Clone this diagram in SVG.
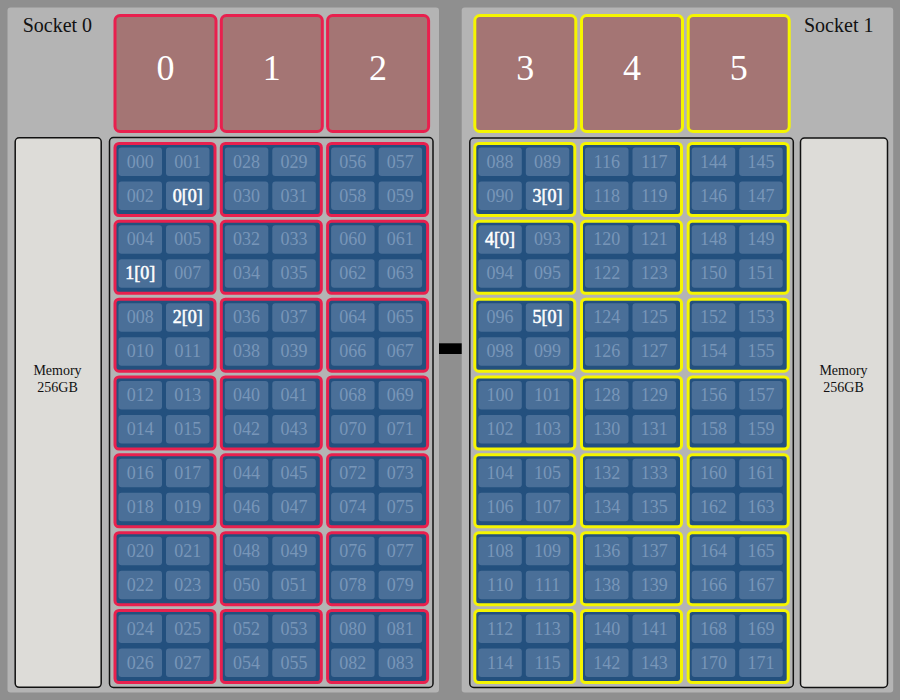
<svg xmlns="http://www.w3.org/2000/svg" xmlns:xlink="http://www.w3.org/1999/xlink" width="900" height="700" viewBox="0 0 900 700">
<style>
text{font-family:"Liberation Serif","Times New Roman",serif}
.panel{fill:#b4b4b4}
.box{fill:none;stroke:#111;stroke-width:1.5}
.mem{fill:#dddcd8;stroke:#111;stroke-width:1.5}
.memt{font-size:14px;fill:#111;text-anchor:middle}
.sock{font-size:20px;fill:#111}
.core{fill:#a47574;stroke-width:3}
.coret{font-size:36px;fill:#fff;text-anchor:middle}
.r{stroke:#e8204e}
.y{stroke:#f5f500}
.gf{fill:#23507e;stroke-width:3}
.c{font-size:18px;fill:#7896b8;text-anchor:middle}
.h{fill:#fff;stroke:#fff;stroke-width:0.55}
</style>
<defs>
<rect id="cell" width="43.5" height="28.5" rx="3" fill="#4a6f98"/>
<rect id="gframe" x="1.5" y="1.5" width="100" height="72" rx="4"/>
<rect id="cframe" x="1.5" y="1.5" width="101" height="116" rx="5"/>
<g id="cells"><use href="#cell" x="5" y="5.5"/><use href="#cell" x="52.5" y="5.5"/><use href="#cell" x="5" y="39.5"/><use href="#cell" x="52.5" y="39.5"/></g>
</defs>
<rect width="900" height="700" fill="#8f8f8f"/>

<g id="socket0">
<rect class="panel" x="7.5" y="7.5" width="431.5" height="685" rx="3"/>
<text class="sock" x="22.7" y="32.3">Socket 0</text>
<rect class="box" x="109.5" y="137.5" width="323.5" height="550" rx="4"/>
</g>
<g id="socket1">
<rect class="panel" x="461.7" y="7.5" width="431.5" height="685" rx="3"/>
<text class="sock" x="804" y="32.3">Socket 1</text>
<rect class="box" x="469.8" y="138" width="323.5" height="549.5" rx="4"/>
</g>

<g id="memory0"><rect class="mem" x="15.2" y="137.8" width="86" height="549.5" rx="4"/><text class="memt" x="57.5" y="375">Memory</text><text class="memt" x="57.5" y="392">256GB</text></g>
<g id="memory1"><rect class="mem" x="800.5" y="138" width="87" height="549.5" rx="4"/><text class="memt" x="843.5" y="375">Memory</text><text class="memt" x="843.5" y="392">256GB</text></g>

<g id="core0" transform="translate(113.5,14)"><use href="#cframe" class="core r"/><text class="coret" x="52" y="66">0</text></g>
<g id="core1" transform="translate(219.8,14)"><use href="#cframe" class="core r"/><text class="coret" x="52" y="66">1</text></g>
<g id="core2" transform="translate(326.1,14)"><use href="#cframe" class="core r"/><text class="coret" x="52" y="66">2</text></g>
<g id="core3" transform="translate(473.3,14)"><use href="#cframe" class="core y"/><text class="coret" x="52" y="66">3</text></g>
<g id="core4" transform="translate(580,14)"><use href="#cframe" class="core y"/><text class="coret" x="52" y="66">4</text></g>
<g id="core5" transform="translate(686.7,14)"><use href="#cframe" class="core y"/><text class="coret" x="52" y="66">5</text></g>

<!-- Socket 0, column A -->
<g id="grp000" transform="translate(113.5,142)"><use href="#gframe" class="gf r"/><use href="#cells"/><text class="c" x="26.75" y="25.5">000</text><text class="c" x="74.25" y="25.5">001</text><text class="c" x="26.75" y="59.5">002</text><text class="c h" x="74.25" y="59.5">0[0]</text></g>
<g id="grp004" transform="translate(113.5,219.8)"><use href="#gframe" class="gf r"/><use href="#cells"/><text class="c" x="26.75" y="25.5">004</text><text class="c" x="74.25" y="25.5">005</text><text class="c h" x="26.75" y="59.5">1[0]</text><text class="c" x="74.25" y="59.5">007</text></g>
<g id="grp008" transform="translate(113.5,297.7)"><use href="#gframe" class="gf r"/><use href="#cells"/><text class="c" x="26.75" y="25.5">008</text><text class="c h" x="74.25" y="25.5">2[0]</text><text class="c" x="26.75" y="59.5">010</text><text class="c" x="74.25" y="59.5">011</text></g>
<g id="grp012" transform="translate(113.5,375.5)"><use href="#gframe" class="gf r"/><use href="#cells"/><text class="c" x="26.75" y="25.5">012</text><text class="c" x="74.25" y="25.5">013</text><text class="c" x="26.75" y="59.5">014</text><text class="c" x="74.25" y="59.5">015</text></g>
<g id="grp016" transform="translate(113.5,453.3)"><use href="#gframe" class="gf r"/><use href="#cells"/><text class="c" x="26.75" y="25.5">016</text><text class="c" x="74.25" y="25.5">017</text><text class="c" x="26.75" y="59.5">018</text><text class="c" x="74.25" y="59.5">019</text></g>
<g id="grp020" transform="translate(113.5,531.2)"><use href="#gframe" class="gf r"/><use href="#cells"/><text class="c" x="26.75" y="25.5">020</text><text class="c" x="74.25" y="25.5">021</text><text class="c" x="26.75" y="59.5">022</text><text class="c" x="74.25" y="59.5">023</text></g>
<g id="grp024" transform="translate(113.5,609)"><use href="#gframe" class="gf r"/><use href="#cells"/><text class="c" x="26.75" y="25.5">024</text><text class="c" x="74.25" y="25.5">025</text><text class="c" x="26.75" y="59.5">026</text><text class="c" x="74.25" y="59.5">027</text></g>

<!-- Socket 0, column B -->
<g id="grp028" transform="translate(219.8,142)"><use href="#gframe" class="gf r"/><use href="#cells"/><text class="c" x="26.75" y="25.5">028</text><text class="c" x="74.25" y="25.5">029</text><text class="c" x="26.75" y="59.5">030</text><text class="c" x="74.25" y="59.5">031</text></g>
<g id="grp032" transform="translate(219.8,219.8)"><use href="#gframe" class="gf r"/><use href="#cells"/><text class="c" x="26.75" y="25.5">032</text><text class="c" x="74.25" y="25.5">033</text><text class="c" x="26.75" y="59.5">034</text><text class="c" x="74.25" y="59.5">035</text></g>
<g id="grp036" transform="translate(219.8,297.7)"><use href="#gframe" class="gf r"/><use href="#cells"/><text class="c" x="26.75" y="25.5">036</text><text class="c" x="74.25" y="25.5">037</text><text class="c" x="26.75" y="59.5">038</text><text class="c" x="74.25" y="59.5">039</text></g>
<g id="grp040" transform="translate(219.8,375.5)"><use href="#gframe" class="gf r"/><use href="#cells"/><text class="c" x="26.75" y="25.5">040</text><text class="c" x="74.25" y="25.5">041</text><text class="c" x="26.75" y="59.5">042</text><text class="c" x="74.25" y="59.5">043</text></g>
<g id="grp044" transform="translate(219.8,453.3)"><use href="#gframe" class="gf r"/><use href="#cells"/><text class="c" x="26.75" y="25.5">044</text><text class="c" x="74.25" y="25.5">045</text><text class="c" x="26.75" y="59.5">046</text><text class="c" x="74.25" y="59.5">047</text></g>
<g id="grp048" transform="translate(219.8,531.2)"><use href="#gframe" class="gf r"/><use href="#cells"/><text class="c" x="26.75" y="25.5">048</text><text class="c" x="74.25" y="25.5">049</text><text class="c" x="26.75" y="59.5">050</text><text class="c" x="74.25" y="59.5">051</text></g>
<g id="grp052" transform="translate(219.8,609)"><use href="#gframe" class="gf r"/><use href="#cells"/><text class="c" x="26.75" y="25.5">052</text><text class="c" x="74.25" y="25.5">053</text><text class="c" x="26.75" y="59.5">054</text><text class="c" x="74.25" y="59.5">055</text></g>

<!-- Socket 0, column C -->
<g id="grp056" transform="translate(326.1,142)"><use href="#gframe" class="gf r"/><use href="#cells"/><text class="c" x="26.75" y="25.5">056</text><text class="c" x="74.25" y="25.5">057</text><text class="c" x="26.75" y="59.5">058</text><text class="c" x="74.25" y="59.5">059</text></g>
<g id="grp060" transform="translate(326.1,219.8)"><use href="#gframe" class="gf r"/><use href="#cells"/><text class="c" x="26.75" y="25.5">060</text><text class="c" x="74.25" y="25.5">061</text><text class="c" x="26.75" y="59.5">062</text><text class="c" x="74.25" y="59.5">063</text></g>
<g id="grp064" transform="translate(326.1,297.7)"><use href="#gframe" class="gf r"/><use href="#cells"/><text class="c" x="26.75" y="25.5">064</text><text class="c" x="74.25" y="25.5">065</text><text class="c" x="26.75" y="59.5">066</text><text class="c" x="74.25" y="59.5">067</text></g>
<g id="grp068" transform="translate(326.1,375.5)"><use href="#gframe" class="gf r"/><use href="#cells"/><text class="c" x="26.75" y="25.5">068</text><text class="c" x="74.25" y="25.5">069</text><text class="c" x="26.75" y="59.5">070</text><text class="c" x="74.25" y="59.5">071</text></g>
<g id="grp072" transform="translate(326.1,453.3)"><use href="#gframe" class="gf r"/><use href="#cells"/><text class="c" x="26.75" y="25.5">072</text><text class="c" x="74.25" y="25.5">073</text><text class="c" x="26.75" y="59.5">074</text><text class="c" x="74.25" y="59.5">075</text></g>
<g id="grp076" transform="translate(326.1,531.2)"><use href="#gframe" class="gf r"/><use href="#cells"/><text class="c" x="26.75" y="25.5">076</text><text class="c" x="74.25" y="25.5">077</text><text class="c" x="26.75" y="59.5">078</text><text class="c" x="74.25" y="59.5">079</text></g>
<g id="grp080" transform="translate(326.1,609)"><use href="#gframe" class="gf r"/><use href="#cells"/><text class="c" x="26.75" y="25.5">080</text><text class="c" x="74.25" y="25.5">081</text><text class="c" x="26.75" y="59.5">082</text><text class="c" x="74.25" y="59.5">083</text></g>

<!-- Socket 1, column D -->
<g id="grp088" transform="translate(473.3,142)"><use href="#gframe" class="gf y"/><use href="#cells"/><text class="c" x="26.75" y="25.5">088</text><text class="c" x="74.25" y="25.5">089</text><text class="c" x="26.75" y="59.5">090</text><text class="c h" x="74.25" y="59.5">3[0]</text></g>
<g id="grp092" transform="translate(473.3,219.8)"><use href="#gframe" class="gf y"/><use href="#cells"/><text class="c h" x="26.75" y="25.5">4[0]</text><text class="c" x="74.25" y="25.5">093</text><text class="c" x="26.75" y="59.5">094</text><text class="c" x="74.25" y="59.5">095</text></g>
<g id="grp096" transform="translate(473.3,297.7)"><use href="#gframe" class="gf y"/><use href="#cells"/><text class="c" x="26.75" y="25.5">096</text><text class="c h" x="74.25" y="25.5">5[0]</text><text class="c" x="26.75" y="59.5">098</text><text class="c" x="74.25" y="59.5">099</text></g>
<g id="grp100" transform="translate(473.3,375.5)"><use href="#gframe" class="gf y"/><use href="#cells"/><text class="c" x="26.75" y="25.5">100</text><text class="c" x="74.25" y="25.5">101</text><text class="c" x="26.75" y="59.5">102</text><text class="c" x="74.25" y="59.5">103</text></g>
<g id="grp104" transform="translate(473.3,453.3)"><use href="#gframe" class="gf y"/><use href="#cells"/><text class="c" x="26.75" y="25.5">104</text><text class="c" x="74.25" y="25.5">105</text><text class="c" x="26.75" y="59.5">106</text><text class="c" x="74.25" y="59.5">107</text></g>
<g id="grp108" transform="translate(473.3,531.2)"><use href="#gframe" class="gf y"/><use href="#cells"/><text class="c" x="26.75" y="25.5">108</text><text class="c" x="74.25" y="25.5">109</text><text class="c" x="26.75" y="59.5">110</text><text class="c" x="74.25" y="59.5">111</text></g>
<g id="grp112" transform="translate(473.3,609)"><use href="#gframe" class="gf y"/><use href="#cells"/><text class="c" x="26.75" y="25.5">112</text><text class="c" x="74.25" y="25.5">113</text><text class="c" x="26.75" y="59.5">114</text><text class="c" x="74.25" y="59.5">115</text></g>

<!-- Socket 1, column E -->
<g id="grp116" transform="translate(580,142)"><use href="#gframe" class="gf y"/><use href="#cells"/><text class="c" x="26.75" y="25.5">116</text><text class="c" x="74.25" y="25.5">117</text><text class="c" x="26.75" y="59.5">118</text><text class="c" x="74.25" y="59.5">119</text></g>
<g id="grp120" transform="translate(580,219.8)"><use href="#gframe" class="gf y"/><use href="#cells"/><text class="c" x="26.75" y="25.5">120</text><text class="c" x="74.25" y="25.5">121</text><text class="c" x="26.75" y="59.5">122</text><text class="c" x="74.25" y="59.5">123</text></g>
<g id="grp124" transform="translate(580,297.7)"><use href="#gframe" class="gf y"/><use href="#cells"/><text class="c" x="26.75" y="25.5">124</text><text class="c" x="74.25" y="25.5">125</text><text class="c" x="26.75" y="59.5">126</text><text class="c" x="74.25" y="59.5">127</text></g>
<g id="grp128" transform="translate(580,375.5)"><use href="#gframe" class="gf y"/><use href="#cells"/><text class="c" x="26.75" y="25.5">128</text><text class="c" x="74.25" y="25.5">129</text><text class="c" x="26.75" y="59.5">130</text><text class="c" x="74.25" y="59.5">131</text></g>
<g id="grp132" transform="translate(580,453.3)"><use href="#gframe" class="gf y"/><use href="#cells"/><text class="c" x="26.75" y="25.5">132</text><text class="c" x="74.25" y="25.5">133</text><text class="c" x="26.75" y="59.5">134</text><text class="c" x="74.25" y="59.5">135</text></g>
<g id="grp136" transform="translate(580,531.2)"><use href="#gframe" class="gf y"/><use href="#cells"/><text class="c" x="26.75" y="25.5">136</text><text class="c" x="74.25" y="25.5">137</text><text class="c" x="26.75" y="59.5">138</text><text class="c" x="74.25" y="59.5">139</text></g>
<g id="grp140" transform="translate(580,609)"><use href="#gframe" class="gf y"/><use href="#cells"/><text class="c" x="26.75" y="25.5">140</text><text class="c" x="74.25" y="25.5">141</text><text class="c" x="26.75" y="59.5">142</text><text class="c" x="74.25" y="59.5">143</text></g>

<!-- Socket 1, column F -->
<g id="grp144" transform="translate(686.7,142)"><use href="#gframe" class="gf y"/><use href="#cells"/><text class="c" x="26.75" y="25.5">144</text><text class="c" x="74.25" y="25.5">145</text><text class="c" x="26.75" y="59.5">146</text><text class="c" x="74.25" y="59.5">147</text></g>
<g id="grp148" transform="translate(686.7,219.8)"><use href="#gframe" class="gf y"/><use href="#cells"/><text class="c" x="26.75" y="25.5">148</text><text class="c" x="74.25" y="25.5">149</text><text class="c" x="26.75" y="59.5">150</text><text class="c" x="74.25" y="59.5">151</text></g>
<g id="grp152" transform="translate(686.7,297.7)"><use href="#gframe" class="gf y"/><use href="#cells"/><text class="c" x="26.75" y="25.5">152</text><text class="c" x="74.25" y="25.5">153</text><text class="c" x="26.75" y="59.5">154</text><text class="c" x="74.25" y="59.5">155</text></g>
<g id="grp156" transform="translate(686.7,375.5)"><use href="#gframe" class="gf y"/><use href="#cells"/><text class="c" x="26.75" y="25.5">156</text><text class="c" x="74.25" y="25.5">157</text><text class="c" x="26.75" y="59.5">158</text><text class="c" x="74.25" y="59.5">159</text></g>
<g id="grp160" transform="translate(686.7,453.3)"><use href="#gframe" class="gf y"/><use href="#cells"/><text class="c" x="26.75" y="25.5">160</text><text class="c" x="74.25" y="25.5">161</text><text class="c" x="26.75" y="59.5">162</text><text class="c" x="74.25" y="59.5">163</text></g>
<g id="grp164" transform="translate(686.7,531.2)"><use href="#gframe" class="gf y"/><use href="#cells"/><text class="c" x="26.75" y="25.5">164</text><text class="c" x="74.25" y="25.5">165</text><text class="c" x="26.75" y="59.5">166</text><text class="c" x="74.25" y="59.5">167</text></g>
<g id="grp168" transform="translate(686.7,609)"><use href="#gframe" class="gf y"/><use href="#cells"/><text class="c" x="26.75" y="25.5">168</text><text class="c" x="74.25" y="25.5">169</text><text class="c" x="26.75" y="59.5">170</text><text class="c" x="74.25" y="59.5">171</text></g>

<g id="connectors">
<rect x="439" y="343.3" width="22.7" height="10.7" fill="#000"/>
</g>
</svg>
